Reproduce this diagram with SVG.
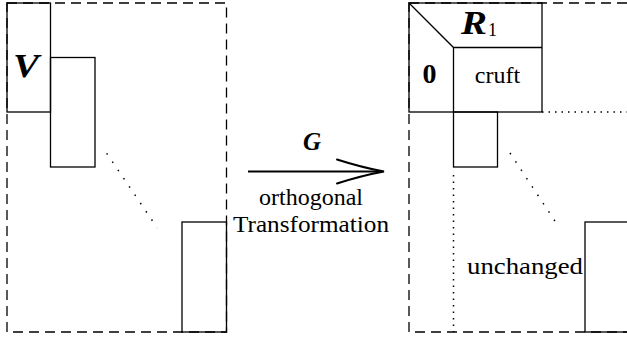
<svg xmlns="http://www.w3.org/2000/svg" width="627" height="340" viewBox="0 0 627 340">
<style>
.s{fill:none;stroke:#000;stroke-width:1.3}
.d{fill:none;stroke:#000;stroke-width:1.3;stroke-dasharray:10 6}
.dot{fill:none;stroke:#000;stroke-width:1.5;stroke-dasharray:1.5 8.5}
.dt{fill:none;stroke:#000;stroke-width:1.5;stroke-dasharray:1.5 5}
text{font-family:'Liberation Serif','Times New Roman',serif;fill:#000}
.m{font-weight:bold;font-style:italic}
</style>
<rect width="627" height="340" fill="#fff"/>
<g id="left-matrix">
<rect class="d" x="7" y="3" width="219.5" height="329"/>
<rect class="s" x="7" y="3" width="43.5" height="109"/>
<rect class="s" x="50.5" y="57.5" width="44.5" height="109.5"/>
<rect class="s" x="182" y="222" width="44.5" height="110"/>
<text class="m" x="13" y="77" font-size="33" textLength="26" lengthAdjust="spacingAndGlyphs">V</text>
</g>
<g id="right-matrix">
<rect class="d" x="409" y="3" width="219.5" height="329"/>
<rect class="s" x="409" y="3" width="133" height="109" fill="#fff"/>
<path class="s" d="M409,3 L453.5,47.5 L542,47.5 M453.5,47.5 V112"/>
<rect class="s" x="453.5" y="112" width="44" height="55"/>
<rect class="s" x="585" y="222" width="44" height="110" fill="#fff"/>
<text class="m" x="461" y="34" font-size="33" textLength="26" lengthAdjust="spacingAndGlyphs">R</text>
<text x="488" y="36" font-size="18">1</text>
<text x="429.5" y="83" font-size="28" font-weight="bold" text-anchor="middle">0</text>
<text x="497.5" y="83" font-size="24" text-anchor="middle">cruft</text>
<text x="467" y="274" font-size="24" textLength="116" lengthAdjust="spacingAndGlyphs">unchanged</text>
</g>
<g id="connectors">
<path class="dot" d="M106.7,153.3 L157.3,228"/>
<path class="dot" d="M510,153 L559.3,227.7"/>
<path class="dt" d="M542,112 H627"/>
<path class="dt" d="M453.5,175 V332"/>
<path fill="none" stroke="#000" stroke-width="2.2" d="M248,171.5 H382"/>
<path fill="none" stroke="#000" stroke-width="2" stroke-linecap="round" d="M337,159.5 Q362,167.5 384,171.5 Q362,175.5 337,183.5"/>
</g>
<g id="arrow-labels">
<text class="m" x="312" y="150" font-size="25" text-anchor="middle">G</text>
<text x="311" y="205" font-size="24" text-anchor="middle">orthogonal</text>
<text x="311" y="232" font-size="24" text-anchor="middle" textLength="156" lengthAdjust="spacingAndGlyphs">Transformation</text>
</g>
</svg>
